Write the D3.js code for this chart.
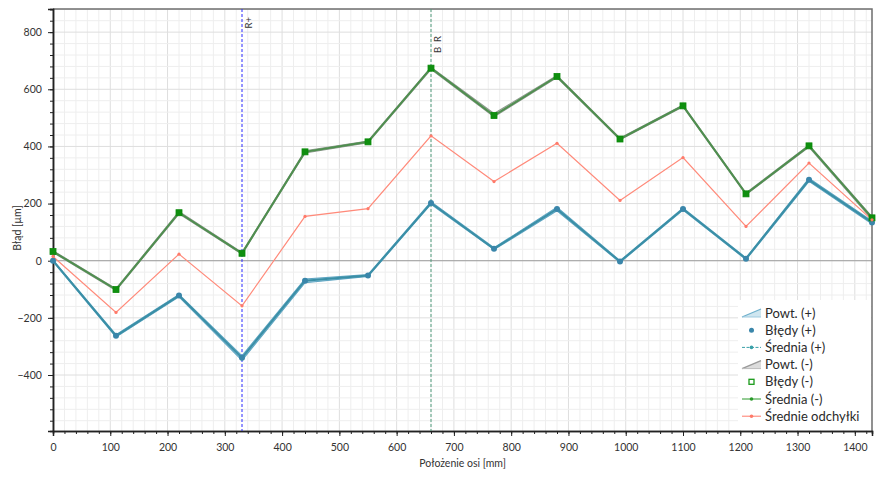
<!DOCTYPE html>
<html><head><meta charset="utf-8">
<script src="https://cdn.jsdelivr.net/npm/d3@7"></script>
<style>
body{margin:0;background:#fff;}
text{font-family:Lato,"Open Sans",sans-serif;}
</style></head>
<body><svg id="c" width="883" height="478"></svg>
<script>
// ---- data ----
const positions = [0,110,220,330,440,550,660,770,880,990,1100,1210,1320,1430];
const plusMean  = [0,-263,-122,-340,-70,-52,202,42,181,-3,181,7,283,134];
const plusMin   = [-3,-267,-126,-349,-77,-55,198,39,175,-6,177,4,278,129];
const plusMax   = [2,-259,-118,-333,-64,-49,206,45,187,0,184,10,288,139];
const minusMean = [32,-101,168,26,381,416,674,508,645,426,542,234,402,150];
const minusMin  = [29,-104,164,23,377,413,670,504,641,423,539,231,398,145];
const minusMax  = [35,-98,172,29,385,419,677,515,648,429,545,237,405,154];
const avgDev    = [15,-181,23,-158,155,182,437,277,411,211,361,120,342,143];
const xTicks = [0,100,200,300,400,500,600,700,800,900,1000,1100,1200,1300,1400];
const yTicks = [-400,-200,0,200,400,600,800];
const markers = [{pos:330,label:"R+",color:"#2a2aff"},{pos:660,label:"B  R",color:"#4f9a7a"}];
const legendItems = ["Powt. (+)","Błędy (+)","Średnia (+)","Powt. (-)","Błędy (-)","Średnia (-)","Średnie odchyłki"];

const svg = d3.select("#c");
const L=53,R=872,T=9,B=431;
const x = d3.scaleLinear().domain([0,1430]).range([L,R]);
const y = d3.scaleLinear().domain([-596,881]).range([B,T]);

// grid
const g = svg.append("g");
d3.range(0,1430,20).forEach(v=>{
  g.append("line").attr("x1",x(v)).attr("x2",x(v)).attr("y1",T).attr("y2",B)
   .attr("stroke", v%100===0 ? "#dedede" : "#eeeeee").attr("stroke-width",1);
});
d3.range(-560,881,40).forEach(v=>{
  g.append("line").attr("x1",L).attr("x2",R).attr("y1",y(v)).attr("y2",y(v))
   .attr("stroke", v%200===0 ? "#dedede" : "#eeeeee").attr("stroke-width",1);
});
// zero line
svg.append("line").attr("x1",L).attr("x2",R).attr("y1",y(0)).attr("y2",y(0)).attr("stroke","#a0a0a0").attr("stroke-width",1);

// frame top/right
svg.append("path").attr("d",`M${L},${T}H${R}V${B}`).attr("fill","none").attr("stroke","#6e6e6e").attr("stroke-width",1.5);

// axes
const xAxis = d3.axisBottom(x).tickValues(xTicks).tickSize(5).tickFormat(d3.format("d"));
const xMinor = d3.axisBottom(x).tickValues(d3.range(0,1430,20)).tickSize(3).tickFormat("");
const yAxis = d3.axisLeft(y).tickValues(yTicks).tickSize(5).tickFormat(d3.format("d"));
const yMinor = d3.axisLeft(y).tickValues(d3.range(-560,881,40)).tickSize(3).tickFormat("");
function styleAxis(sel){
  sel.select(".domain").attr("stroke","#222").attr("stroke-width",1.5);
  sel.selectAll(".tick line").attr("stroke","#222");
  sel.selectAll("text").attr("fill","#333").style("font-size","10.5px");
}
svg.append("g").attr("transform",`translate(0,${B})`).call(xMinor).call(styleAxis);
svg.append("g").attr("transform",`translate(0,${B})`).call(xAxis).call(styleAxis).selectAll("text").attr("dy","1.1em");
svg.append("g").attr("transform",`translate(0,0)`).attr("transform",`translate(${L},0)`).call(yMinor).call(styleAxis);
svg.append("g").attr("transform",`translate(${L},0)`).call(yAxis).call(styleAxis).selectAll("text").attr("dx","-0.3em");

// axis titles
svg.append("text").attr("x",(L+R)/2).attr("y",467).attr("text-anchor","middle").attr("fill","#333").style("font-size","10.5px").text("Położenie osi [mm]");
svg.append("text").attr("transform","translate(21,228) rotate(-90)").attr("text-anchor","middle").attr("fill","#333").style("font-size","10.5px").text("Błąd [µm]");

// vertical markers
markers.forEach(m=>{
  svg.append("line").attr("x1",x(m.pos)).attr("x2",x(m.pos)).attr("y1",T).attr("y2",B)
    .attr("stroke",m.color).attr("stroke-width",1).attr("stroke-dasharray","3,2");
  const ty = m.label==="R+" ? 17 : 36;
  svg.append("text").attr("transform",`translate(${x(m.pos)+10},${ty}) rotate(-90)`)
    .attr("text-anchor","end").attr("fill","#333").style("font-size","9.5px").style("white-space","pre").attr("xml:space","preserve").text(m.label);
});

const idx = d3.range(positions.length);
const area = (lo,hi)=>d3.area().x(i=>x(positions[i])).y0(i=>y(lo[i])).y1(i=>y(hi[i]));
const line = arr=>d3.line().x(i=>x(positions[i])).y(i=>y(arr[i]));

// plus band
svg.append("path").datum(idx).attr("d",area(plusMin,plusMax)).attr("fill","#a8d2e4").attr("stroke","#5fa5c2").attr("stroke-width",1.2);
// minus band
svg.append("path").datum(idx).attr("d",area(minusMin,minusMax)).attr("fill","#c6c6c6").attr("stroke","#8e9a8e").attr("stroke-width",1.2);
// mean lines
svg.append("path").datum(idx).attr("d",line(plusMean)).attr("fill","none").attr("stroke","#3a8fa6").attr("stroke-width",2);
svg.append("path").datum(idx).attr("d",line(minusMean)).attr("fill","none").attr("stroke","#4f8f4f").attr("stroke-width",2);
svg.append("path").datum(idx).attr("d",line(avgDev)).attr("fill","none").attr("stroke","#ff8a7a").attr("stroke-width",1.2);

// points
svg.append("g").selectAll("circle").data(idx).join("circle")
  .attr("cx",i=>x(positions[i])).attr("cy",i=>y(plusMean[i])).attr("r",3).attr("fill","#3a86aa");
svg.append("g").selectAll("rect").data(idx).join("rect")
  .attr("x",i=>x(positions[i])-3).attr("y",i=>y(minusMean[i])-3).attr("width",6).attr("height",6)
  .attr("fill","#0f8f0f").attr("stroke","#0a8a0a").attr("stroke-width",0.8);
svg.append("g").selectAll("circle").data(idx).join("circle")
  .attr("cx",i=>x(positions[i])).attr("cy",i=>y(avgDev[i])).attr("r",1.6).attr("fill","#ff7a6a");

// legend
const lg = svg.append("g");
lg.append("rect").attr("x",738).attr("y",300).attr("width",R-738-1).attr("height",B-300-1).attr("fill","#fff");
legendItems.forEach((t,i)=>{
  const cy = 313 + i*17.2;
  const sx = 742, ex = 761, mx=(sx+ex)/2;
  if(i===0||i===3){
    lg.append("path").attr("d",`M${sx},${cy+4}L${ex},${cy-4}L${ex},${cy+4}Z`)
      .attr("fill",i===0?"#cfe6f0":"#dcdcdc").attr("stroke","none");
    lg.append("path").attr("d",`M${sx},${cy+4}L${ex},${cy-4}`).attr("stroke",i===0?"#6fb0cc":"#9a9a9a").attr("stroke-width",1.3);
    lg.append("path").attr("d",`M${sx},${cy+4}L${ex},${cy+4}`).attr("stroke",i===0?"#9fcbe0":"#bbbbbb").attr("stroke-width",1);
  } else if(i===1){
    lg.append("circle").attr("cx",mx).attr("cy",cy).attr("r",2.5).attr("fill","#3a86aa");
  } else if(i===4){
    lg.append("rect").attr("x",mx-2.5).attr("y",cy-2.5).attr("width",5).attr("height",5).attr("fill","none").attr("stroke","#1a9a1a").attr("stroke-width",1.3);
  } else {
    const c = i===2?"#3aa0a8":(i===5?"#2a9a2a":"#ff7a6a");
    lg.append("line").attr("x1",sx).attr("x2",ex).attr("y1",cy).attr("y2",cy).attr("stroke",c).attr("stroke-width",1).attr("stroke-dasharray",i===2?"3,1.5":null);
    lg.append("circle").attr("cx",mx).attr("cy",cy).attr("r",1.8).attr("fill",c);
  }
  lg.append("text").attr("x",765).attr("y",cy).attr("dy","0.35em").attr("fill","#2a2a2a").style("font-size","13px").text(t);
});
</script></body></html>
